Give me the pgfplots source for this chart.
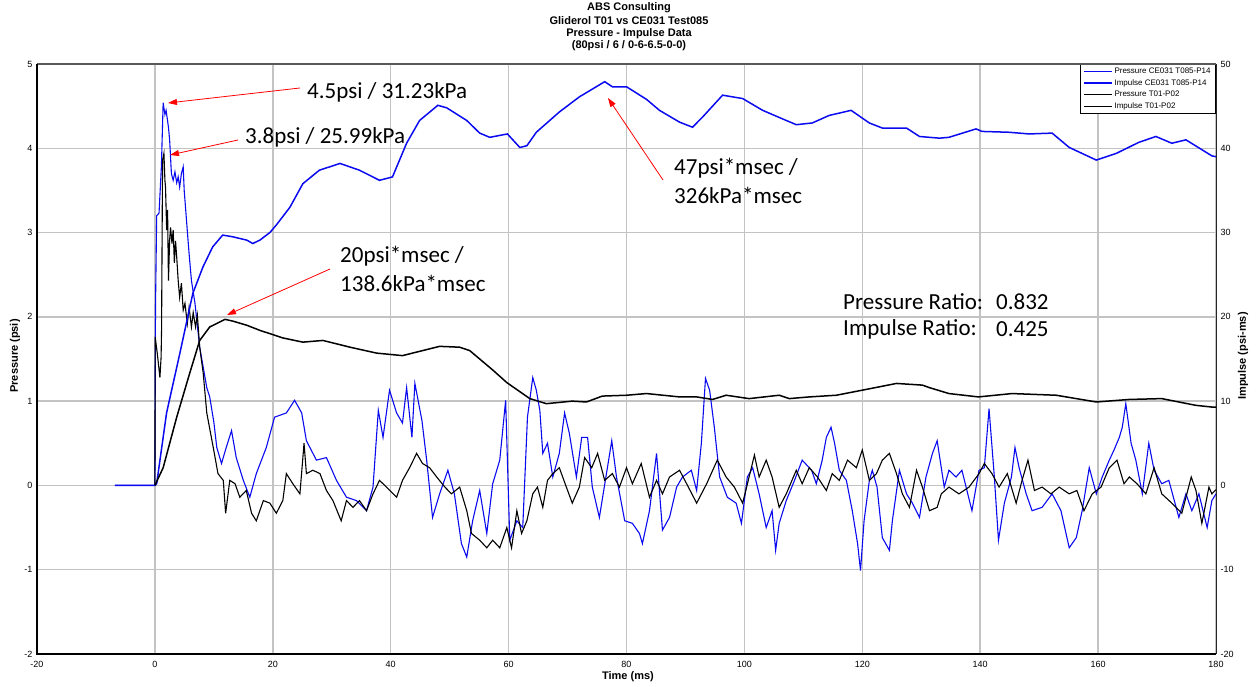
\documentclass[border=0pt]{standalone}
\usepackage{pgfplots}
\pgfplotsset{compat=1.18}
\usetikzlibrary{arrows.meta}
\usepackage{fontspec}
\setmainfont{Liberation Sans}
\newfontfamily\annfont{Carlito}
\definecolor{gridc}{RGB}{195,195,195}
\definecolor{tblue}{RGB}{10,10,240}
\begin{document}
\begin{tikzpicture}[x=1pt,y=1pt]
\useasboundingbox (0,0) rectangle (1258,687);
\begin{axis}[name=main, at={(37pt,33pt)}, anchor=south west, scale only axis, width=1179pt, height=590pt,
  xmin=-20, xmax=180, ymin=-2, ymax=5,
  xtick={-20,0,...,180}, ytick={-2,-1,...,5},
  grid=major, major grid style={draw=gridc, line width=1.5pt},
  tick style={draw=none}, axis line style={draw=none},
  ticklabel style={font=\fontsize{9}{10}\selectfont},
  /pgf/number format/assume math mode=true,
  xticklabel style={anchor=center, yshift=-10pt},
  yticklabel style={anchor=east, xshift=-1pt}]
\addplot[tblue, line width=1.1pt] coordinates {
(-6.8,0) (0,0) (0.1,2.1) (0.3,3.2) (0.7,3.23) (1.1,3.78) (1.4,4.54) (1.7,4.4) (1.9,4.45) (2.3,4.25) (2.5,4.1) (2.8,3.7) (3.1,3.62) (3.4,3.72) (3.7,3.59) (3.95,3.66) (4.2,3.54) (4.5,3.7) (4.8,3.78) (4.97,3.5) (5.4,3.11) (5.8,2.75) (6.2,2.43) (6.8,2.16) (7.6,1.64) (8.8,1.16) (9.3,1.05) (10.0,0.75) (10.5,0.45) (11.3,0.26) (12.1,0.45) (13.0,0.65) (13.8,0.33) (15.0,0.06) (16.1,-0.14) (17.2,0.14) (18.9,0.45) (20.3,0.81) (22.3,0.86) (23.7,1.01) (24.9,0.86) (25.7,0.53) (27.4,0.30) (29.1,0.33) (30.8,0.06) (32.5,-0.14) (34.2,-0.18) (35.9,-0.30) (37.0,-0.02) (37.9,0.89) (38.7,0.57) (39.8,1.13) (41.0,0.86) (42.0,0.74) (42.7,1.16) (43.6,0.57) (44.1,1.21) (45.3,0.77) (46.1,0.30) (47.1,-0.38) (48.3,-0.10) (49.7,0.18) (50.8,-0.10) (52.0,-0.69) (52.9,-0.85) (53.9,-0.42) (55.1,-0.06) (56.3,-0.57) (57.3,0.02) (58.5,0.30) (59.5,1.01) (60.2,-0.65) (61.4,-0.42) (62.4,-0.50) (63.2,0.81) (64.1,1.28) (64.7,1.13) (65.3,0.89) (65.8,0.38) (66.6,0.50) (67.5,0.10) (68.6,0.38) (69.5,0.86) (70.3,0.62) (71.5,0.10) (72.4,0.57) (73.4,0.57) (74.2,-0.02) (75.4,-0.38) (76.6,0.14) (77.5,0.53) (78.3,0.10) (79.7,-0.42) (81.0,-0.45) (82.2,-0.57) (82.7,-0.69) (83.9,-0.30) (85.1,0.38) (86.1,-0.53) (87.3,-0.38) (88.5,-0.02) (89.5,0.10) (91.0,0.18) (91.9,-0.06) (92.7,0.50) (93.4,1.27) (94.1,1.13) (94.9,0.69) (95.8,0.10) (97.1,-0.14) (98.6,-0.21) (99.5,-0.45) (100.5,0.10) (101.4,0.21) (102.5,-0.10) (103.7,-0.50) (104.7,-0.30) (105.3,-0.77) (105.9,-0.45) (107.1,-0.18) (108.5,0.06) (109.8,0.30) (111.4,0.18) (112.2,0.02) (113.2,0.30) (113.9,0.57) (114.7,0.69) (115.3,0.50) (116.1,0.18) (117.3,0.06) (118.3,-0.30) (119.2,-0.69) (119.7,-1.01) (120.3,-0.42) (121.2,0.06) (121.7,0.18) (122.5,-0.02) (123.4,-0.62) (124.6,-0.77) (125.1,-0.42) (126.3,0.18) (127.5,-0.10) (128.5,-0.21) (129.7,-0.38) (130.8,0.10) (131.9,0.38) (132.7,0.53) (133.9,-0.02) (134.7,0.18) (135.9,0.10) (136.9,0.18) (138.6,-0.30) (139.8,0.18) (140.7,0.21) (141.5,0.91) (142.4,0.10) (143.1,-0.65) (144.1,-0.21) (145.3,0.10) (145.9,0.45) (146.6,0.21) (147.8,-0.10) (148.8,-0.30) (150.5,-0.26) (152.2,-0.10) (153.7,-0.30) (155.1,-0.74) (156.3,-0.62) (157.3,-0.30) (158.5,0.21) (159.7,-0.10) (160.7,0.10) (161.9,0.30) (162.7,0.42) (163.6,0.57) (164.1,0.69) (164.7,0.97) (165.6,0.50) (166.4,0.30) (167.5,-0.10) (168.6,0.50) (169.5,0.18) (170.8,0.02) (172.0,0.06) (173.7,-0.38) (174.9,-0.10) (175.9,-0.30) (177.1,-0.10) (178.5,-0.50) (179.3,-0.18) (180,-0.10)
};
\addplot[black, line width=1.1pt] coordinates {
(0,0) (0.05,1.76) (0.4,1.57) (0.85,1.28) (1.05,1.52) (1.13,1.84) (1.3,3.86) (1.53,3.94) (1.7,3.62) (1.8,3.54) (2.0,3.03) (2.15,3.27) (2.3,2.43) (2.5,2.91) (2.66,3.06) (2.9,2.87) (3.1,3.03) (3.3,2.64) (3.5,2.9) (3.7,2.71) (3.95,2.43) (4.2,2.23) (4.5,2.4) (4.8,2.08) (5.1,2.16) (5.5,1.92) (5.8,2.11) (6.2,1.88) (6.5,2.05) (6.9,1.88) (7.2,2.02) (7.6,1.64) (8.2,1.33) (8.8,0.86) (9.9,0.45) (10.7,0.14) (11.6,0.06) (12.0,-0.33) (12.7,0.06) (13.6,0.02) (14.4,-0.14) (15.5,-0.06) (16.4,-0.33) (17.2,-0.42) (18.4,-0.18) (19.5,-0.21) (20.6,-0.33) (21.7,-0.18) (22.3,0.14) (23.4,0.02) (24.6,-0.10) (25.3,0.50) (25.7,0.14) (26.8,0.18) (28.0,0.14) (29.1,-0.06) (30.2,-0.18) (31.6,-0.42) (32.5,-0.18) (33.6,-0.26) (34.7,-0.18) (35.9,-0.30) (37.0,-0.10) (38.1,0.06) (39.3,-0.02) (41.0,-0.14) (42.0,0.06) (43.2,0.21) (44.4,0.38) (45.4,0.26) (46.6,0.21) (47.8,0.10) (49.2,-0.02) (50.3,-0.10) (51.7,-0.02) (52.9,-0.30) (53.7,-0.57) (55.1,-0.65) (56.3,-0.74) (57.3,-0.65) (58.5,-0.74) (59.7,-0.50) (60.5,-0.74) (61.4,-0.30) (62.2,-0.57) (63.1,-0.42) (64.1,-0.10) (64.9,-0.02) (65.8,-0.26) (66.6,0.06) (67.5,0.14) (68.6,0.21) (69.8,-0.02) (70.8,-0.21) (72.0,-0.02) (72.9,0.33) (74.1,0.21) (75.1,0.38) (76.3,0.06) (77.6,0.14) (78.8,-0.02) (80.0,0.21) (81.0,0.02) (82.5,0.26) (83.9,-0.14) (85.1,0.06) (86.1,-0.10) (87.3,0.10) (89.0,0.18) (90.2,0.02) (91.9,-0.21) (93.6,0.02) (95.4,0.30) (96.9,0.10) (98.3,-0.02) (99.7,-0.21) (100.8,0.10) (101.7,0.36) (102.5,0.10) (103.7,0.30) (104.7,0.10) (105.9,-0.26) (107.1,-0.10) (108.8,0.18) (109.8,0.02) (111.0,0.21) (112.4,0.10) (113.9,-0.06) (114.9,0.14) (116.1,0.06) (117.5,0.30) (119.0,0.21) (120.0,0.42) (121.2,0.06) (122.4,0.14) (123.4,0.30) (124.6,0.38) (125.8,0.14) (126.8,-0.10) (128.0,-0.26) (129.2,0.18) (130.2,-0.02) (131.4,-0.30) (132.7,-0.26) (133.4,-0.10) (134.7,-0.02) (136.4,-0.10) (138.1,-0.02) (139.8,0.14) (140.7,0.26) (142.0,0.14) (143.2,-0.02) (144.6,0.14) (146.1,-0.21) (147.1,0.06) (148.1,0.30) (149.2,-0.06) (150.5,-0.02) (152.0,-0.10) (153.4,-0.02) (155.1,-0.10) (156.4,-0.06) (157.6,-0.30) (159.0,-0.10) (160.5,-0.02) (161.9,0.21) (163.2,0.30) (164.4,0.02) (165.3,0.10) (166.6,0.02) (168.1,-0.10) (169.5,0.21) (170.8,-0.10) (172.5,-0.21) (174.2,-0.33) (175.8,0.10) (176.6,-0.06) (177.6,-0.45) (178.8,-0.02) (179.3,-0.10) (180,-0.05)
};
\end{axis}
\begin{axis}[at={(37pt,33pt)}, anchor=south west, scale only axis, width=1179pt, height=590pt,
  xmin=-20, xmax=180, ymin=-20, ymax=50,
  hide x axis, ytick={-20,-10,...,50}, yticklabel pos=right,
  tick style={draw=none}, axis line style={draw=none},
  ticklabel style={font=\fontsize{9}{10}\selectfont},
  /pgf/number format/assume math mode=true,
  yticklabel style={anchor=west, xshift=1pt},
  legend style={at={(1,1)}, anchor=north east, draw=black, line width=0.8pt,
    inner xsep=3pt, inner ysep=1.5pt, font=\fontsize{8}{9}\selectfont,
    row sep=0.5pt, cells={anchor=west}},
  legend image code/.code={\draw[#1, line width=1.3pt] (0pt,0pt) -- (28pt,0pt);}]
\addlegendimage{tblue}
\addlegendentry{Pressure CE031 T085-P14}
\addplot[tblue, line width=1.5pt] coordinates {
(-6.8,0) (0,0) (0.3,0.2) (1.98,8.6) (4.24,15.7) (6.44,22.8) (8.14,25.9) (9.8,28.3) (11.5,29.7) (13.2,29.5) (15.6,29.1) (16.6,28.7) (17.8,29.1) (19.5,30.0) (20.6,30.9) (22.9,33.0) (25.1,35.8) (27.9,37.4) (31.4,38.2) (34.7,37.4) (38.1,36.2) (40.3,36.6) (42.7,40.6) (44.9,43.3) (48.0,45.1) (49.5,44.8) (52.9,43.3) (55.1,41.8) (56.8,41.3) (59.8,41.7) (61.9,40.1) (63.1,40.3) (64.7,41.9) (68.6,44.3) (72.0,46.1) (76.3,47.9) (77.6,47.3) (80.0,47.3) (83.4,45.8) (85.6,44.5) (89.0,43.1) (91.2,42.5) (92.9,43.7) (96.3,46.3) (99.7,45.9) (103.1,44.5) (107.1,43.3) (108.8,42.8) (111.5,43.0) (114.4,43.9) (118.1,44.5) (121.2,43.0) (123.4,42.4) (127.5,42.4) (129.7,41.4) (133.1,41.2) (134.7,41.3) (139.3,42.3) (140.3,42.0) (144.9,41.9) (148.3,41.7) (152.2,41.8) (155.1,40.1) (159.7,38.6) (163.1,39.4) (166.9,40.7) (169.8,41.4) (172.5,40.6) (174.9,41.0) (179.3,39.1) (180,39.0)
};
\addlegendentry{Impulse CE031 T085-P14}
\addlegendimage{black}
\addlegendentry{Pressure T01-P02}
\addplot[black, line width=1.5pt] coordinates {
(0,0) (1.4,2.1) (3.7,8.1) (5.9,13.3) (7.6,17.2) (9.3,18.8) (11.9,19.7) (13.2,19.5) (15.6,19.0) (17.8,18.4) (21.7,17.5) (25.1,17.0) (28.5,17.2) (33.1,16.4) (37.6,15.7) (42.0,15.4) (43.7,15.7) (48.3,16.5) (51.7,16.4) (53.4,16.0) (57.3,13.7) (59.7,12.2) (63.6,10.3) (66.4,9.7) (70.8,10.0) (73.2,9.9) (75.9,10.6) (80.0,10.7) (83.4,10.9) (89.0,10.5) (91.9,10.5) (94.6,10.2) (96.9,10.7) (100.8,10.3) (105.9,10.7) (107.6,10.3) (111.0,10.5) (115.6,10.7) (120.0,11.3) (125.8,12.1) (130.2,11.9) (131.4,11.6) (134.7,10.9) (139.7,10.5) (145.4,10.9) (152.9,10.7) (159.7,9.9) (165.3,10.2) (170.8,10.3) (176.6,9.5) (179.3,9.3) (180,9.3)
};
\addlegendentry{Impulse T01-P02}
\end{axis}
% frame
\draw[line width=2pt, black!65] (main.north west) -- (main.north east);
\draw[line width=1pt, black!85] (main.south east) -- (main.north east);
\draw[line width=2pt, black] (main.north west) -- (main.south west) -- (main.south east);
% titles and axis labels
\begin{scope}[every node/.style={font=\bfseries\fontsize{11}{13}\selectfont, inner sep=0pt}]
\node at (629,679) {ABS Consulting};
\node at (629,666) {Gliderol T01 vs CE031 Test085};
\node at (629,653) {Pressure - Impulse Data};
\node at (629,641) {(80psi / 6 / 0-6-6.5-0-0)};
\node at (628,10) {Time (ms)};
\node[rotate=90] at (15,331) {Pressure (psi)};
\node[rotate=90] at (1243,331) {Impulse (psi-ms)};
\end{scope}
% annotations
\begin{scope}[every node/.style={font=\annfont\fontsize{23}{27}\selectfont, anchor=west, inner sep=0pt},
  arr/.style={red, line width=0.8pt, -{Triangle[length=9pt,width=6pt]}}]
\draw[arr] (300,599) -- (168,584);
\node at (307,595) {4.5psi / 31.23kPa};
\draw[arr] (238,547) -- (170,532);
\node at (245,550) {3.8psi / 25.99kPa};
\draw[arr] (330,418) -- (227,372);
\node at (340,431) {20psi*msec /};
\node at (340,404) {138.6kPa*msec};
\draw[arr] (663,507) -- (608,589);
\node at (674,519) {47psi*msec /};
\node at (674,492) {326kPa*msec};
\node at (843,385) {Pressure Ratio:};
\node at (996,385) {0.832};
\node at (843,358) {Impulse Ratio:};
\node at (996,358) {0.425};
\end{scope}
\end{tikzpicture}
\end{document}
